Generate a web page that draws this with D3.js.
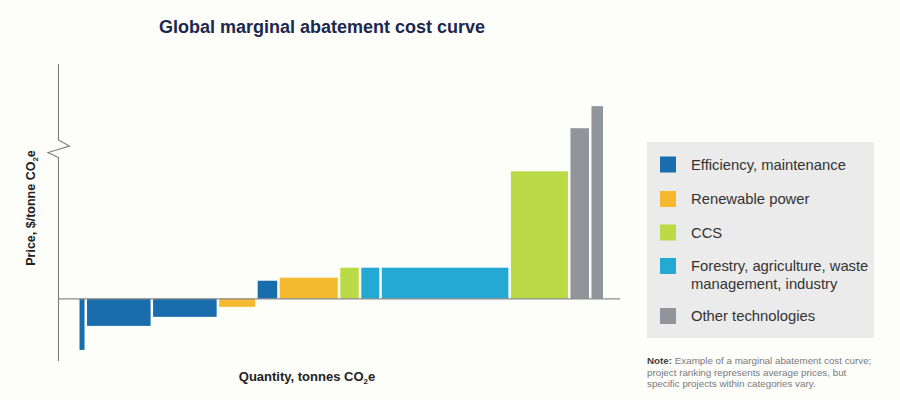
<!DOCTYPE html>
<html>
<head>
<meta charset="utf-8">
<script src="https://cdn.jsdelivr.net/npm/d3@7"></script>
<style>
    body { margin: 0; background: #fdfdfa; }
    svg { display: block; font-family: "Liberation Sans", Arial, sans-serif; }
</style>
</head>
<body>
<div id="mac-chart"></div>
<script>
// categories of abatement options
var categories = ["Efficiency, maintenance", "Renewable power", "CCS",
    "Forestry, agriculture, waste management, industry", "Other technologies"];
var categoryColors = ["#1a6dad", "#f4b92f", "#badb45", "#24a8d4", "#8f9599"];

// bars in ranking order: category index, quantity (bar width), price (bar height)
var barCategory = [0, 0, 0, 1, 0, 1, 2, 3, 3, 2, 4, 4];
var barQuantity = [7.5, 66, 66, 38.5, 22, 60.5, 21, 20.5, 129, 59.5, 21, 14];
var barPrice = [-51, -27, -18, -8, 18, 21, 31, 31, 31, 127, 170, 192];

var noteLines = ["Example of a marginal abatement cost curve;",
    "project ranking represents average prices, but",
    "specific projects within categories vary."];

function MacChart(){
    this.draw();
}

MacChart.prototype.draw = function(){
    var width = 900, height = 400;
    var svg = d3.select("#mac-chart").append("svg")
        .attr("width", width)
        .attr("height", height);
    svg.append("rect").attr("width", width).attr("height", height).attr("fill", "#fdfdfa");

    // cumulative quantity -> start of each bar
    var starts = [];
    var acc = 0;
    barQuantity.forEach(function(q){ starts.push(acc); acc += q; });

    var x = d3.scaleLinear().domain([-20.5, acc + 15]).range([58.5, 620]);
    var y = d3.scaleLinear().domain([-62, 234]).range([361, 64]);

    // bars
    svg.selectAll(".bar")
        .data(barPrice)
        .enter().append("rect")
        .attr("class", "bar")
        .attr("x", function(d, i){ return x(starts[i]) + 0.5; })
        .attr("width", function(d, i){ return x(starts[i] + barQuantity[i]) - x(starts[i]) - 2.5; })
        .attr("y", function(d){ return y(Math.max(0, d)); })
        .attr("height", function(d){ return Math.abs(y(d) - y(0)); })
        .attr("fill", function(d, i){ return categoryColors[barCategory[i]]; });

    // zero line
    svg.append("line")
        .attr("x1", x.range()[0]).attr("x2", x.range()[1])
        .attr("y1", y(0)).attr("y2", y(0))
        .attr("stroke", "#8a8a8a").attr("stroke-width", 1.2);

    // y axis with break
    var ax = x.range()[0];
    var axisPath = d3.path();
    axisPath.moveTo(ax, y.range()[1]);
    axisPath.lineTo(ax, 140);
    axisPath.lineTo(ax + 11, 146);
    axisPath.lineTo(ax - 10.5, 152.5);
    axisPath.lineTo(ax, 157.5);
    axisPath.lineTo(ax, y.range()[0]);
    svg.append("path")
        .attr("d", axisPath.toString())
        .attr("fill", "none")
        .attr("stroke", "#7a7a7a")
        .attr("stroke-width", 1.1);

    // title
    svg.append("text")
        .attr("x", 159).attr("y", 33)
        .attr("font-size", 18).attr("font-weight", "bold")
        .attr("fill", "#1b2850")
        .text("Global marginal abatement cost curve");

    // axis labels
    var xl = svg.append("text")
        .attr("x", 307).attr("y", 381)
        .attr("text-anchor", "middle")
        .attr("font-size", 13).attr("font-weight", "bold")
        .attr("fill", "#222");
    xl.append("tspan").text("Quantity, tonnes CO");
    xl.append("tspan").attr("font-size", 8).attr("dy", 3).text("2");
    xl.append("tspan").attr("dy", -3).text("e");

    var yl = svg.append("text")
        .attr("transform", "translate(35,208) rotate(-90)")
        .attr("text-anchor", "middle")
        .attr("font-size", 12.5).attr("font-weight", "bold")
        .attr("fill", "#222");
    yl.append("tspan").text("Price, $/tonne CO");
    yl.append("tspan").attr("font-size", 8).attr("dy", 3).text("2");
    yl.append("tspan").attr("dy", -3).text("e");

    // legend
    var lg = svg.append("g");
    lg.append("rect")
        .attr("x", 647).attr("y", 142)
        .attr("width", 227).attr("height", 196)
        .attr("fill", "#ebebeb");
    var rowY = [164.5, 199, 232.5, 266, 316];
    var legendLines = [["Efficiency, maintenance"], ["Renewable power"], ["CCS"],
        ["Forestry, agriculture, waste", "management, industry"], ["Other technologies"]];
    var items = lg.selectAll(".item")
        .data(categories)
        .enter().append("g")
        .attr("class", "item")
        .attr("transform", function(d, i){ return "translate(660," + rowY[i] + ")"; });
    items.append("rect")
        .attr("x", 0).attr("y", -8)
        .attr("width", 16).attr("height", 16)
        .attr("fill", function(d, i){ return categoryColors[i]; });
    items.each(function(d, i){
        var t = d3.select(this).append("text")
            .attr("x", 31).attr("y", 5)
            .attr("font-size", 14.8)
            .attr("fill", "#333");
        legendLines[i].forEach(function(line, j){
            t.append("tspan").attr("x", 31).attr("dy", j === 0 ? 0 : 18).text(line);
        });
    });

    // note
    var note = svg.append("text")
        .attr("x", 647).attr("y", 364)
        .attr("font-size", 9.8)
        .attr("fill", "#7a7a7a");
    noteLines.forEach(function(line, j){
        var ts = note.append("tspan").attr("x", 647).attr("dy", j === 0 ? 0 : 11.5);
        if(j === 0){
            ts.append("tspan").attr("font-weight", "bold").attr("fill", "#444").text("Note: ");
        }
        ts.append("tspan").text(line);
    });
};

new MacChart();
</script>
</body>
</html>
